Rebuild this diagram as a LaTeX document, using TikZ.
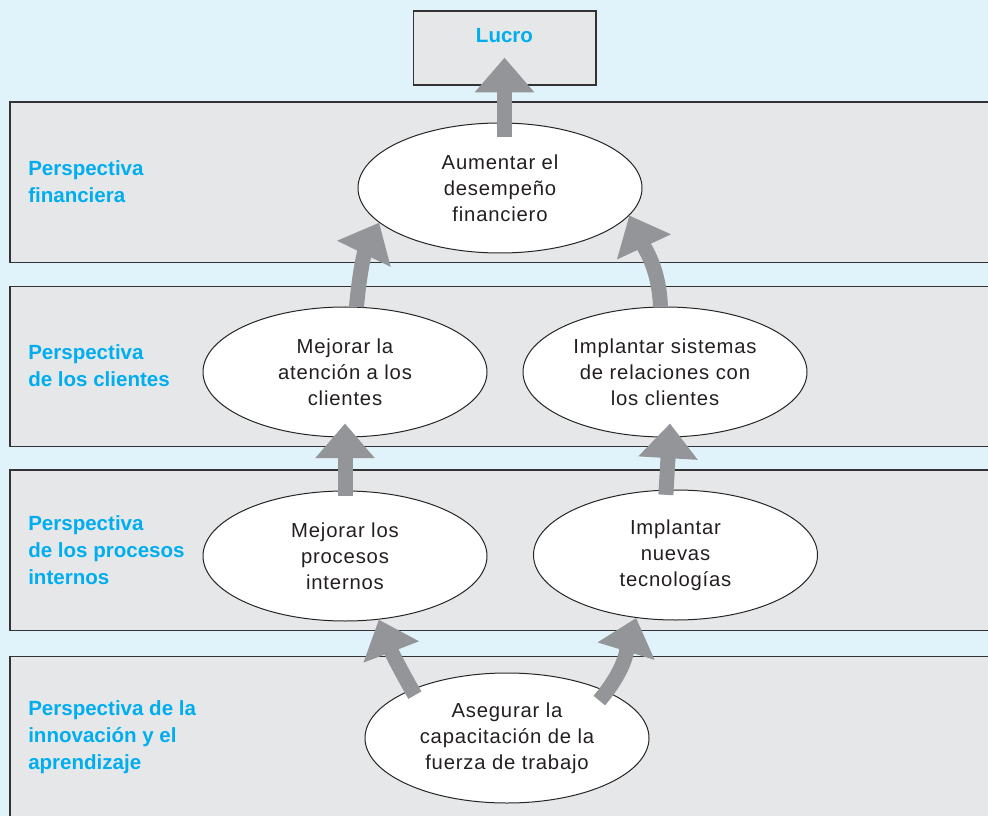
\documentclass[tikz,border=0pt]{standalone}
\usepackage{fontspec}
\setmainfont{Liberation Sans}
\newfontfamily\goalfont[LetterSpace=4]{Liberation Sans}
\usetikzlibrary{arrows.meta, shapes.geometric}

\definecolor{skyback}{HTML}{E0F2FA}
\definecolor{bandgray}{HTML}{E6E7E8}
\definecolor{arrgray}{HTML}{939598}
\definecolor{perspblue}{HTML}{00AEEF}
\definecolor{inkgray}{HTML}{231F20}

\begin{document}
\begin{tikzpicture}[x=0.75pt, y=-0.75pt,
    band/.style={fill=bandgray, draw=black!80, line width=1pt},
    persp/.style={anchor=west, align=left, inner sep=0pt, text=perspblue,
        font=\bfseries\fontsize{15.4}{20.25}\selectfont},
    goal/.style={ellipse, draw=black!85, line width=0.75pt, fill=white,
        minimum width=213pt, minimum height=97.5pt, inner sep=0pt,
        align=center, text=inkgray, font=\goalfont\fontsize{15.2}{19.5}\selectfont},
    lift/.style={line width=11.25pt, draw=arrgray, -{Triangle[length=26pt, width=43pt]}}]
    \useasboundingbox (0,0) rectangle (988,816);
    \clip (0,0) rectangle (988,816);
    \fill[skyback] (0,0) rectangle (988,816);

    \draw[band] (10,102) rectangle (1000,262.7);
    \draw[band] (10,286.7) rectangle (1000,446.7);
    \draw[band] (10,470) rectangle (1000,630.7);
    \draw[band] (10,656.7) rectangle (1000,830);

    \node[persp] (pfin) at (28,182) {Perspectiva\\financiera};
    \node[persp] (pcli) at (28,366) {Perspectiva\\de los clientes};
    \node[persp] (ppro) at (28,550) {Perspectiva\\de los procesos\\internos};
    \node[persp] (pinn) at (28,737) {Perspectiva de la\\innovación y el\\aprendizaje};

    \node[draw=black!80, line width=1pt, fill=bandgray, minimum width=137pt,
        inner ysep=0pt, text height=23.8pt, text depth=31.7pt, anchor=base,
        text=perspblue, font=\bfseries\fontsize{15.4}{20.25}\selectfont]
        (lucro) at (504.5,42.7) {Lucro};

    \node[goal] (aumentar) at (500,188) {Aumentar el\\desempeño\\financiero};
    \node[goal] (atencion) at (345,372) {Mejorar la\\atención a los\\clientes};
    \node[goal] (sistemas) at (665,372) {Implantar sistemas\\de relaciones con\\los clientes};
    \node[goal] (procesos) at (345,556) {Mejorar los\\procesos\\internos};
    \node[goal] (tecnologias) at (675.5,555) {Implantar\\nuevas\\tecnologías};
    \node[goal] (asegurar) at (507,738) {Asegurar la\\capacitación de la\\fuerza de trabajo};

    \draw[lift, shorten <=-11pt, shorten >=-21pt] (aumentar.north -| lucro.south) -- (lucro.south);
    \draw[lift] (atencion.80) to[out=85, in=-116] (aumentar.196);
    \draw[lift] (sistemas.94) to[out=92, in=-65] (aumentar.-12);
    \draw[lift, shorten <=-4pt, shorten >=-10.5pt] (procesos.north) -- (atencion.south);
    \draw[lift, shorten <=-4pt] ([xshift=-7pt]tecnologias.north) -- ([xshift=3.75pt, yshift=10.5pt]sistemas.south);
    \draw[lift, shorten <=-5pt] (asegurar.153) to[out=120, in=-69] (procesos.-62);
    \draw[lift, shorten <=-9pt] (asegurar.25) to[out=50, in=-107] (tecnologias.-122);
\end{tikzpicture}
\end{document}
